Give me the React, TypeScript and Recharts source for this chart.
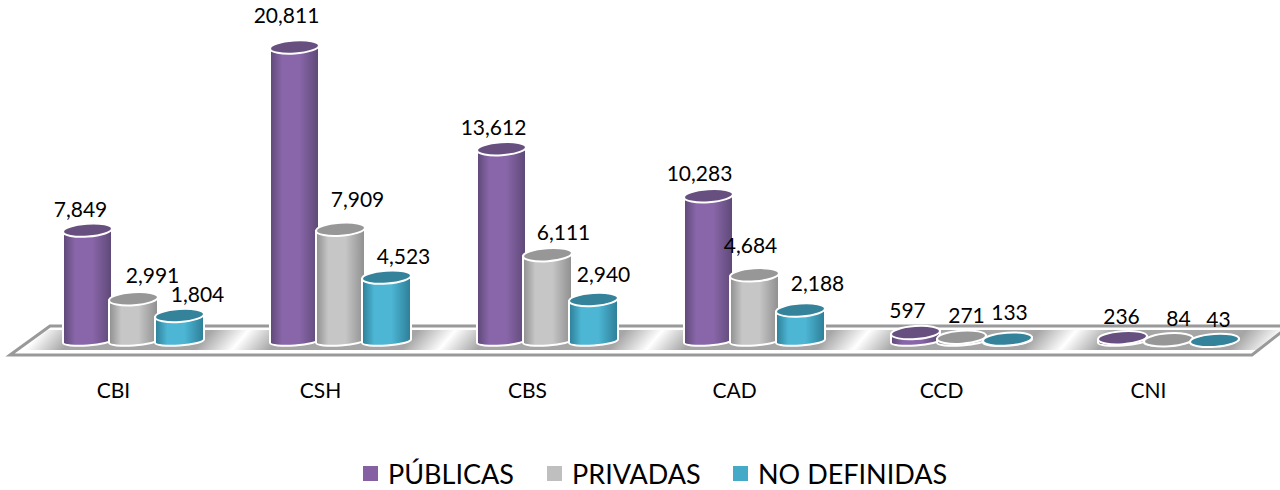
import { BarChart, Bar, XAxis, YAxis, Legend, LabelList } from 'recharts';

const categories = ['CBI', 'CSH', 'CBS', 'CAD', 'CCD', 'CNI'];
const publicas = [7849, 20811, 13612, 10283, 597, 236];
const privadas = [2991, 7909, 6111, 4684, 271, 84];
const noDefinidas = [1804, 4523, 2940, 2188, 133, 43];

const data = categories.map((name, i) => ({
  name,
  publicas: publicas[i],
  privadas: privadas[i],
  noDefinidas: noDefinidas[i],
}));

const FONT = 'Lato, "Open Sans", sans-serif';

// labels were moved by hand in the original, so each one has its own nudge
const nudgePublicas = [[-7, -22], [-8, -33], [-8, -22], [-9, -23], [-8, -23], [-1, -22]];
const nudgePrivadas = [[19, -24], [17, -31], [16, -23], [-4, -30], [5, -23], [10, -22]];
const nudgeNoDef = [[18, -22], [17, -22], [10, -26], [17, -28], [2, -28], [4, -22]];

const seriesList = [
  { key: 'publicas', label: 'PÚBLICAS', mid: '#8966a9', edge: '#5d4876', top: '#67507f', swatch: '#8560a2', nudge: nudgePublicas },
  { key: 'privadas', label: 'PRIVADAS', mid: '#c6c6c6', edge: '#8e8e8e', top: '#979797', swatch: '#bfbfbf', nudge: nudgePrivadas },
  { key: 'noDefinidas', label: 'NO DEFINIDAS', mid: '#4cb6d4', edge: '#2d7d96', top: '#35829b', swatch: '#45aac8', nudge: nudgeNoDef },
];

function Cylinder(props: any) {
  const { x, y, width, height, gradId, topColor } = props;
  const rx = width / 2;
  const ry = 6.5;
  const tilt = -4;
  const dy = rx * Math.sin((4 * Math.PI) / 180);
  const base = y + height;
  const cx = x + rx;
  const side = `M${x},${y + dy} L${x},${base + dy} A${rx},4.5 ${tilt} 0 0 ${x + width},${base - dy} L${x + width},${y - dy} Z`;
  return (
    <g>
      <path d={side} fill={`url(#${gradId})`} stroke="#fff" strokeWidth={2} />
      <ellipse
        cx={cx}
        cy={y}
        rx={rx}
        ry={ry}
        fill={topColor}
        stroke="#fff"
        strokeWidth={2}
        transform={`rotate(${tilt} ${cx} ${y})`}
      />
    </g>
  );
}

function Floor() {
  return (
    <g>
      <defs>
        <linearGradient id="floorShade" x1="0" y1="0" x2="1" y2="0">
          <stop offset="0" stopColor="#a6a6a6" stopOpacity={0} />
          <stop offset="0.18" stopColor="#a6a6a6" stopOpacity={1} />
          <stop offset="0.82" stopColor="#a6a6a6" stopOpacity={1} />
          <stop offset="1" stopColor="#a6a6a6" stopOpacity={0} />
        </linearGradient>
        <clipPath id="floorClip">
          <polygon points="10,355 50,326 1289,326 1252,355" />
        </clipPath>
      </defs>
      <polygon points="10,355 50,326 1289,326 1252,355" fill="#fff" stroke="#999" strokeWidth={3} />
      <g clipPath="url(#floorClip)">
        {categories.map((c, i) => (
          <rect
            key={c}
            x={0}
            y={-20}
            width={207}
            height={20}
            fill="url(#floorShade)"
            transform={`translate(${25 + i * 207} 350) skewX(-40)`}
          />
        ))}
      </g>
    </g>
  );
}

function renderLabel(nudge: number[][]) {
  return (p: any) => {
    const box = p.viewBox ?? p;
    const [dx, dy] = nudge[p.index];
    return (
      <text
        x={box.x + box.width / 2 + dx}
        y={box.y + dy}
        textAnchor="middle"
        dominantBaseline="central"
        fontFamily={FONT}
        fontSize={21}
        fill="#000"
      >
        {Number(p.value).toLocaleString('en-US')}
      </text>
    );
  };
}

// category names sit left of the group centre in the original
function CategoryTick(p: any) {
  return (
    <text x={p.x - 20} y={389} textAnchor="middle" dominantBaseline="central" fontFamily={FONT} fontSize={21} fill="#000">
      {p.payload.value}
    </text>
  );
}

function LegendRow() {
  const lefts = [363, 547, 733];
  return (
    <div style={{ position: 'relative', height: 38, fontFamily: FONT, fontSize: 27, color: '#000' }}>
      {seriesList.map((s, i) => (
        <div key={s.key} style={{ position: 'absolute', left: lefts[i], top: 2, display: 'flex', alignItems: 'center', height: 38, whiteSpace: 'nowrap' }}>
          <span style={{ width: 15, height: 15, background: s.swatch, marginRight: 10, display: 'inline-block' }} />
          {s.label}
        </div>
      ))}
    </div>
  );
}

export default function App() {
  return (
    <div style={{ position: 'absolute', left: 0, top: 0, width: 1280, height: 490, background: '#fff', overflow: 'hidden' }}>
      <BarChart
        width={1280}
        height={490}
        data={data}
        barSize={49}
        barGap={-3}
        margin={{ top: 2, right: 8, bottom: 0, left: 30 }}
        style={{ fontFamily: FONT }}
      >
        <defs>
          {seriesList.map((s) => (
            <linearGradient key={s.key} id={`side-${s.key}`} x1="0" y1="0" x2="1" y2="0">
              <stop offset="0" stopColor={s.edge} />
              <stop offset="0.25" stopColor={s.mid} />
              <stop offset="0.6" stopColor={s.mid} />
              <stop offset="1" stopColor={s.edge} />
            </linearGradient>
          ))}
        </defs>
        <Floor />
        <XAxis dataKey="name" axisLine={false} tickLine={false} height={111} interval={0} tick={CategoryTick} />
        <YAxis hide domain={[0, 24000]} />
        <Legend
          verticalAlign="bottom"
          height={38}
          content={() => <LegendRow />}
          wrapperStyle={{ left: 0, width: 1280, bottom: 0 }}
        />
        {seriesList.map((s) => (
          <Bar
            key={s.key}
            dataKey={s.key}
            name={s.label}
            isAnimationActive={false}
            shape={(p: any) => <Cylinder {...p} gradId={`side-${s.key}`} topColor={s.top} />}
          >
            <LabelList dataKey={s.key} content={renderLabel(s.nudge)} />
          </Bar>
        ))}
      </BarChart>
    </div>
  );
}
